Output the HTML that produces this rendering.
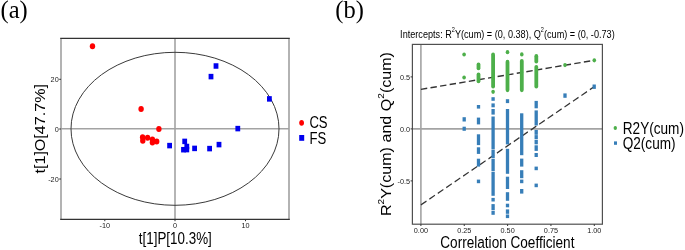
<!DOCTYPE html>
<html><head><meta charset="utf-8"><style>
html,body{margin:0;padding:0;background:#fff;width:685px;height:250px;overflow:hidden;}
svg{display:block;will-change:transform;}
</style></head><body>
<svg width="685" height="250" viewBox="0 0 685 250">
<rect width="685" height="250" fill="#fff"/>
<line x1="175" y1="38.4" x2="175" y2="219.4" stroke="#a3a3a3" stroke-width="1.6"/>
<line x1="61" y1="128.7" x2="289" y2="128.7" stroke="#a3a3a3" stroke-width="1.6"/>
<ellipse cx="175" cy="128.8" rx="104" ry="76.5" fill="none" stroke="#3a3a3a" stroke-width="1"/>
<line x1="61" y1="38.4" x2="61" y2="219.4" stroke="#a0a0a0" stroke-width="1.6"/>
<line x1="289" y1="38.4" x2="289" y2="219.4" stroke="#a0a0a0" stroke-width="1.6"/>
<line x1="60.2" y1="38.4" x2="289.8" y2="38.4" stroke="#333" stroke-width="1.1"/>
<line x1="60.2" y1="219.4" x2="289.8" y2="219.4" stroke="#333" stroke-width="1.1"/>
<line x1="104.8" y1="219.4" x2="104.8" y2="221.20000000000002" stroke="#333" stroke-width="1"/>
<g transform="translate(104.8,228) scale(0.9,1)"><text x="0" y="0" font-family='"Liberation Sans", sans-serif' font-size="8.1" text-anchor="middle" fill="#1a1a1a" >-10</text></g>
<line x1="175" y1="219.4" x2="175" y2="221.20000000000002" stroke="#333" stroke-width="1"/>
<g transform="translate(175,228) scale(0.9,1)"><text x="0" y="0" font-family='"Liberation Sans", sans-serif' font-size="8.1" text-anchor="middle" fill="#1a1a1a" >0</text></g>
<line x1="245.5" y1="219.4" x2="245.5" y2="221.20000000000002" stroke="#333" stroke-width="1"/>
<g transform="translate(245.5,228) scale(0.9,1)"><text x="0" y="0" font-family='"Liberation Sans", sans-serif' font-size="8.1" text-anchor="middle" fill="#1a1a1a" >10</text></g>
<line x1="59.2" y1="79.3" x2="61" y2="79.3" stroke="#333" stroke-width="1"/>
<g transform="translate(58.7,82.05) scale(0.9,1)"><text x="0" y="0" font-family='"Liberation Sans", sans-serif' font-size="8.1" text-anchor="end" fill="#1a1a1a" >20</text></g>
<line x1="59.2" y1="129" x2="61" y2="129" stroke="#333" stroke-width="1"/>
<g transform="translate(58.7,131.75) scale(0.9,1)"><text x="0" y="0" font-family='"Liberation Sans", sans-serif' font-size="8.1" text-anchor="end" fill="#1a1a1a" >0</text></g>
<line x1="59.2" y1="179" x2="61" y2="179" stroke="#333" stroke-width="1"/>
<g transform="translate(58.7,181.75) scale(0.9,1)"><text x="0" y="0" font-family='"Liberation Sans", sans-serif' font-size="8.1" text-anchor="end" fill="#1a1a1a" >-20</text></g>
<ellipse cx="92.5" cy="46.3" rx="2.7" ry="3" fill="#ff0000"/>
<ellipse cx="141.1" cy="108.9" rx="2.7" ry="3" fill="#ff0000"/>
<ellipse cx="158.9" cy="128.9" rx="2.7" ry="3" fill="#ff0000"/>
<ellipse cx="142.6" cy="137.2" rx="2.7" ry="3" fill="#ff0000"/>
<ellipse cx="142.8" cy="140.8" rx="2.7" ry="3" fill="#ff0000"/>
<ellipse cx="147.6" cy="137.7" rx="2.7" ry="3" fill="#ff0000"/>
<ellipse cx="152.4" cy="139.4" rx="2.7" ry="3" fill="#ff0000"/>
<ellipse cx="152.4" cy="142.4" rx="2.7" ry="3" fill="#ff0000"/>
<ellipse cx="156.7" cy="141.5" rx="2.7" ry="3" fill="#ff0000"/>
<rect x="213.6" y="63.25" width="4.8" height="5.5" fill="#0000ee"/>
<rect x="208.6" y="73.85" width="4.8" height="5.5" fill="#0000ee"/>
<rect x="267.0" y="96.15" width="4.8" height="5.5" fill="#0000ee"/>
<rect x="235.4" y="125.85" width="4.8" height="5.5" fill="#0000ee"/>
<rect x="167.2" y="142.85" width="4.8" height="5.5" fill="#0000ee"/>
<rect x="182.29999999999998" y="138.65" width="4.8" height="5.5" fill="#0000ee"/>
<rect x="181.1" y="146.95" width="4.8" height="5.5" fill="#0000ee"/>
<rect x="184.4" y="143.75" width="4.8" height="5.5" fill="#0000ee"/>
<rect x="184.4" y="146.85" width="4.8" height="5.5" fill="#0000ee"/>
<rect x="192.2" y="145.65" width="4.8" height="5.5" fill="#0000ee"/>
<rect x="207.2" y="145.85" width="4.8" height="5.5" fill="#0000ee"/>
<rect x="216.6" y="141.85" width="4.8" height="5.5" fill="#0000ee"/>
<g transform="translate(138.8,243.6) scale(0.807,1)"><text x="0" y="0" font-family='"Liberation Sans", sans-serif' font-size="16.6" text-anchor="start" fill="#000" >t[1]P[10.3%]</text></g>
<g transform="translate(44.96,173.5) scale(0.853,1) rotate(-90)"><text x="0" y="0" font-family='"Liberation Sans", sans-serif' font-size="16.1" text-anchor="start" fill="#000">t[1]O[47.7%]</text></g>
<ellipse cx="301.6" cy="122.8" rx="2.4" ry="2.9" fill="#ff0000"/>
<rect x="299.2" y="135" width="5" height="5.8" fill="#0000ee"/>
<g transform="translate(309.4,128.1) scale(0.79,1)"><text x="0" y="0" font-family='"Liberation Sans", sans-serif' font-size="16.6" text-anchor="start" fill="#000" >CS</text></g>
<g transform="translate(309.4,143.6) scale(0.79,1)"><text x="0" y="0" font-family='"Liberation Sans", sans-serif' font-size="16.6" text-anchor="start" fill="#000" >FS</text></g>
<g transform="translate(0.5,17.8) scale(1.0,1)"><text x="0" y="0" font-family='"Liberation Serif", serif' font-size="24.5" text-anchor="start" fill="#000" >(a)</text></g>
<line x1="420.9" y1="44.4" x2="420.9" y2="224.2" stroke="#a3a3a3" stroke-width="1.6"/>
<line x1="412.4" y1="128.9" x2="602.4" y2="128.9" stroke="#a3a3a3" stroke-width="1.6"/>
<g transform="scale(0.82,1)">
<line x1="513.29" y1="89.38" x2="724.76" y2="60.3" stroke="#333" stroke-width="1.4" stroke-dasharray="7.8 4"/>
<line x1="513.29" y1="204.82" x2="724.76" y2="86.7" stroke="#333" stroke-width="1.4" stroke-dasharray="7.8 4"/>
</g>
<ellipse cx="464.1" cy="54.5" rx="1.8" ry="2.1" fill="#4DAF4A"/>
<ellipse cx="464.1" cy="77.5" rx="1.8" ry="2.1" fill="#4DAF4A"/>
<rect x="476.60" y="62.4" width="3.8" height="7.90" rx="1.9" ry="2.1" fill="#4DAF4A"/>
<rect x="476.60" y="72.5" width="3.8" height="10.80" rx="1.9" ry="2.1" fill="#4DAF4A"/>
<rect x="491.20" y="52.4" width="3.8" height="36.20" rx="1.9" ry="2.1" fill="#4DAF4A"/>
<ellipse cx="493.1" cy="91.8" rx="1.8" ry="2.1" fill="#4DAF4A"/>
<ellipse cx="507.5" cy="52.2" rx="1.8" ry="2.1" fill="#4DAF4A"/>
<rect x="505.60" y="59.8" width="3.8" height="32.40" rx="1.9" ry="2.1" fill="#4DAF4A"/>
<ellipse cx="521.8" cy="54.4" rx="1.8" ry="2.1" fill="#4DAF4A"/>
<rect x="519.90" y="58.9" width="3.8" height="33.30" rx="1.9" ry="2.1" fill="#4DAF4A"/>
<rect x="534.40" y="54.1" width="3.8" height="9.40" rx="1.9" ry="2.1" fill="#4DAF4A"/>
<rect x="534.40" y="65" width="3.8" height="23.60" rx="1.9" ry="2.1" fill="#4DAF4A"/>
<ellipse cx="565.0" cy="65.1" rx="1.8" ry="2.1" fill="#4DAF4A"/>
<ellipse cx="594.3" cy="60.3" rx="1.8" ry="2.1" fill="#4DAF4A"/>
<rect x="462.55" y="117.2" width="3.3" height="4.30" fill="#377EB8"/>
<rect x="462.55" y="126.7" width="3.3" height="4.10" fill="#377EB8"/>
<rect x="476.85" y="105" width="3.3" height="3.60" fill="#377EB8"/>
<rect x="476.85" y="117.6" width="3.3" height="6.80" fill="#377EB8"/>
<rect x="476.85" y="134.3" width="3.3" height="10.80" fill="#377EB8"/>
<rect x="476.85" y="147.3" width="3.3" height="6.60" fill="#377EB8"/>
<rect x="476.85" y="158.7" width="3.3" height="7.90" fill="#377EB8"/>
<rect x="476.85" y="179.6" width="3.3" height="3.60" fill="#377EB8"/>
<rect x="491.45" y="97.2" width="3.3" height="3.60" fill="#377EB8"/>
<rect x="491.45" y="103.4" width="3.3" height="3.90" fill="#377EB8"/>
<rect x="491.45" y="109" width="3.3" height="5.60" fill="#377EB8"/>
<rect x="491.45" y="116.5" width="3.3" height="33.00" fill="#377EB8"/>
<rect x="491.45" y="150" width="3.3" height="8.00" fill="#377EB8"/>
<rect x="491.45" y="158.7" width="3.3" height="12.30" fill="#377EB8"/>
<rect x="491.45" y="171.7" width="3.3" height="24.10" fill="#377EB8"/>
<rect x="491.45" y="197.9" width="3.3" height="3.60" fill="#377EB8"/>
<rect x="491.45" y="204.1" width="3.3" height="6.10" fill="#377EB8"/>
<rect x="491.45" y="210.9" width="3.3" height="3.90" fill="#377EB8"/>
<rect x="505.85" y="99.2" width="3.3" height="3.90" fill="#377EB8"/>
<rect x="505.85" y="109" width="3.3" height="35.40" fill="#377EB8"/>
<rect x="505.85" y="148.8" width="3.3" height="25.00" fill="#377EB8"/>
<rect x="505.85" y="176.7" width="3.3" height="12.30" fill="#377EB8"/>
<rect x="505.85" y="192.2" width="3.3" height="8.60" fill="#377EB8"/>
<rect x="505.85" y="203.7" width="3.3" height="3.60" fill="#377EB8"/>
<rect x="505.85" y="209.4" width="3.3" height="4.40" fill="#377EB8"/>
<rect x="505.85" y="214.5" width="3.3" height="3.60" fill="#377EB8"/>
<rect x="520.05" y="113.3" width="3.3" height="41.90" fill="#377EB8"/>
<rect x="520.05" y="158.6" width="3.3" height="8.00" fill="#377EB8"/>
<rect x="520.05" y="170.2" width="3.3" height="8.00" fill="#377EB8"/>
<rect x="520.05" y="179.6" width="3.3" height="3.60" fill="#377EB8"/>
<rect x="520.05" y="189" width="3.3" height="4.60" fill="#377EB8"/>
<rect x="534.55" y="100.9" width="3.3" height="7.40" fill="#377EB8"/>
<rect x="534.55" y="110.4" width="3.3" height="15.10" fill="#377EB8"/>
<rect x="534.55" y="129.9" width="3.3" height="4.90" fill="#377EB8"/>
<rect x="534.55" y="135.1" width="3.3" height="3.90" fill="#377EB8"/>
<rect x="534.55" y="139.7" width="3.3" height="4.60" fill="#377EB8"/>
<rect x="534.55" y="145.3" width="3.3" height="5.60" fill="#377EB8"/>
<rect x="534.55" y="153" width="3.3" height="4.00" fill="#377EB8"/>
<rect x="534.55" y="166.6" width="3.3" height="3.60" fill="#377EB8"/>
<rect x="534.55" y="183.6" width="3.3" height="3.60" fill="#377EB8"/>
<rect x="563.35" y="93.4" width="3.3" height="4.40" fill="#377EB8"/>
<rect x="592.55" y="84.5" width="3.3" height="4.40" fill="#377EB8"/>
<rect x="412.4" y="44.4" width="190.00" height="179.80" fill="none" stroke="#505050" stroke-width="1.2"/>
<line x1="420.90" y1="224.2" x2="420.90" y2="226.0" stroke="#333" stroke-width="1"/>
<g transform="translate(420.9,232.8) scale(0.9,1)"><text x="0" y="0" font-family='"Liberation Sans", sans-serif' font-size="8.1" text-anchor="middle" fill="#1a1a1a" >0.00</text></g>
<line x1="464.25" y1="224.2" x2="464.25" y2="226.0" stroke="#333" stroke-width="1"/>
<g transform="translate(464.25,232.8) scale(0.9,1)"><text x="0" y="0" font-family='"Liberation Sans", sans-serif' font-size="8.1" text-anchor="middle" fill="#1a1a1a" >0.25</text></g>
<line x1="507.60" y1="224.2" x2="507.60" y2="226.0" stroke="#333" stroke-width="1"/>
<g transform="translate(507.6,232.8) scale(0.9,1)"><text x="0" y="0" font-family='"Liberation Sans", sans-serif' font-size="8.1" text-anchor="middle" fill="#1a1a1a" >0.50</text></g>
<line x1="550.95" y1="224.2" x2="550.95" y2="226.0" stroke="#333" stroke-width="1"/>
<g transform="translate(550.95,232.8) scale(0.9,1)"><text x="0" y="0" font-family='"Liberation Sans", sans-serif' font-size="8.1" text-anchor="middle" fill="#1a1a1a" >0.75</text></g>
<line x1="594.30" y1="224.2" x2="594.30" y2="226.0" stroke="#333" stroke-width="1"/>
<g transform="translate(594.3,232.8) scale(0.9,1)"><text x="0" y="0" font-family='"Liberation Sans", sans-serif' font-size="8.1" text-anchor="middle" fill="#1a1a1a" >1.00</text></g>
<line x1="410.59999999999997" y1="76.9" x2="412.4" y2="76.9" stroke="#333" stroke-width="1"/>
<g transform="translate(410.1,79.65) scale(0.9,1)"><text x="0" y="0" font-family='"Liberation Sans", sans-serif' font-size="8.1" text-anchor="end" fill="#1a1a1a" >0.5</text></g>
<line x1="410.59999999999997" y1="128.9" x2="412.4" y2="128.9" stroke="#333" stroke-width="1"/>
<g transform="translate(410.1,131.65) scale(0.9,1)"><text x="0" y="0" font-family='"Liberation Sans", sans-serif' font-size="8.1" text-anchor="end" fill="#1a1a1a" >0.0</text></g>
<line x1="410.59999999999997" y1="180.9" x2="412.4" y2="180.9" stroke="#333" stroke-width="1"/>
<g transform="translate(410.1,183.65) scale(0.9,1)"><text x="0" y="0" font-family='"Liberation Sans", sans-serif' font-size="8.1" text-anchor="end" fill="#1a1a1a" >-0.5</text></g>
<g transform="translate(507.4,37.5) scale(0.794,1)"><text x="0" y="0" font-family='"Liberation Sans", sans-serif' font-size="11.5" text-anchor="middle" fill="#000" >Intercepts: R<tspan dy="-6" font-size="7">2</tspan><tspan dy="6">Y(cum) = (0, 0.38), Q</tspan><tspan dy="-6" font-size="7">2</tspan><tspan dy="6">(cum) = (0, -0.73)</tspan></text></g>
<g transform="translate(440.3,248.4) scale(0.8,1)"><text x="0" y="0" font-family='"Liberation Sans", sans-serif' font-size="17" text-anchor="start" fill="#000" >Correlation Coefficient</text></g>
<g transform="translate(390.7,216.1) scale(0.864,1) rotate(-90)"><text x="0" y="0" font-family='"Liberation Sans", sans-serif' font-size="16.1" text-anchor="start" fill="#000">R<tspan dy="-8.3" font-size="10.1">2</tspan><tspan dy="8.3">Y(cum) and Q</tspan><tspan dy="-8.3" font-size="10.1">2</tspan><tspan dy="8.3">(cum)</tspan></text></g>
<ellipse cx="615.3" cy="128" rx="1.7" ry="2" fill="#4DAF4A"/>
<rect x="614" y="141.4" width="3" height="3.4" fill="#377EB8"/>
<g transform="translate(622.8,133.6) scale(0.82,1)"><text x="0" y="0" font-family='"Liberation Sans", sans-serif' font-size="16.6" text-anchor="start" fill="#000" >R2Y(cum)</text></g>
<g transform="translate(622.7,149) scale(0.82,1)"><text x="0" y="0" font-family='"Liberation Sans", sans-serif' font-size="16.6" text-anchor="start" fill="#000" >Q2(cum)</text></g>
<g transform="translate(335.3,17.8) scale(1.0,1)"><text x="0" y="0" font-family='"Liberation Serif", serif' font-size="24.5" text-anchor="start" fill="#000" >(b)</text></g>
</svg>
</body></html>
